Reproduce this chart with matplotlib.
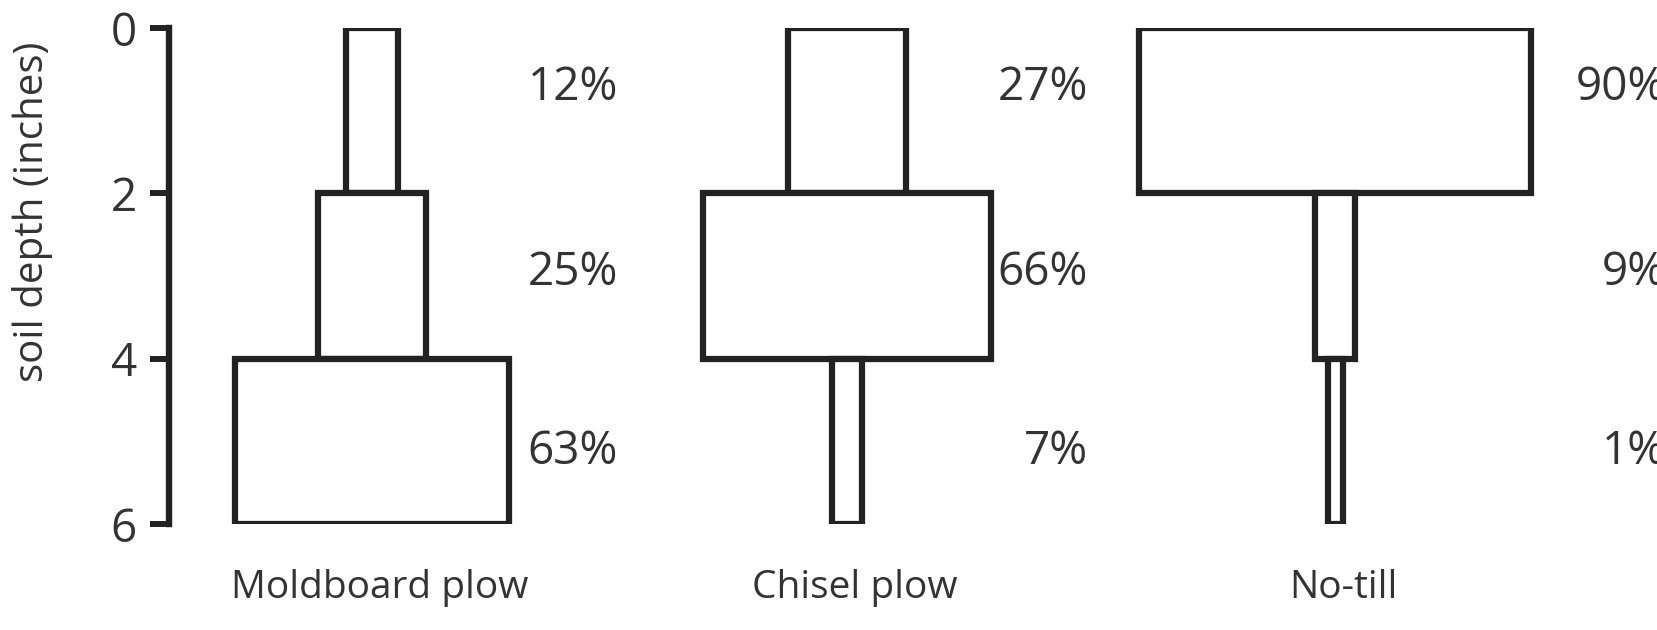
import numpy as np
import matplotlib.pyplot as plt

# dati: percentuale di residui per strato di suolo
methods = ['Moldboard plow', 'Chisel plow', 'No-till']
layer_top = [0, 2, 4]
layer_thick = [2, 2, 2]
moldboard = [12, 25, 63]
chisel = [27, 66, 7]
notill = [90, 9, 1]
depth_ticks = [0, 2, 4, 6]

values = [moldboard, chisel, notill]

# layout (unita' in pixel della figura)
centers = [372, 847, 1335]
px_per_pct = 4.35
min_width = 15
label_right = [618, 1088, 1666]
row_y = [0.73, 2.96, 5.13]
ink = '#222222'
txt = '#333333'

plt.rcParams['font.family'] = ['Open Sans', 'DejaVu Sans']

fig = plt.figure(figsize=(16.57, 6.30), dpi=100)
ax = fig.add_axes([169 / 1657, 1 - 524 / 630, 1 - 169 / 1657, (524 - 28) / 630])
ax.set_xlim(169, 1657)
ax.set_ylim(6, 0)

for c, vals, xr in zip(centers, values, label_right):
    widths = [max(v * px_per_pct, min_width) for v in vals]
    ax.bar([c] * 3, layer_thick, bottom=layer_top, width=widths,
           facecolor='white', edgecolor=ink, linewidth=4.5, joinstyle='miter', zorder=2)
    for v, y in zip(vals, row_y):
        ax.text(xr, y, f'{v}%', ha='right', va='center', fontsize=33,
                color=txt, clip_on=False)

for c, name in zip(centers, methods):
    ax.text(c + 8, 6.78, name, ha='center', va='center', fontsize=28,
            color=txt, clip_on=False)

for s in ['top', 'right', 'bottom']:
    ax.spines[s].set_visible(False)
ax.spines['left'].set_linewidth(4.6)
ax.spines['left'].set_color(ink)
ax.spines['left'].set_bounds(0, 6)
ax.spines['left'].set_capstyle('projecting')
ax.set_yticks(depth_ticks)
ax.set_yticklabels([str(d) for d in depth_ticks])
ax.tick_params(axis='y', length=14, width=4.3, color=ink, pad=9,
               labelsize=33, labelcolor=txt)
ax.set_xticks([])
ax.set_ylabel('soil depth (inches)', fontsize=29, color=txt)
ax.yaxis.set_label_coords(-0.078, 0.63)

fig.savefig('out.png', dpi=100)
